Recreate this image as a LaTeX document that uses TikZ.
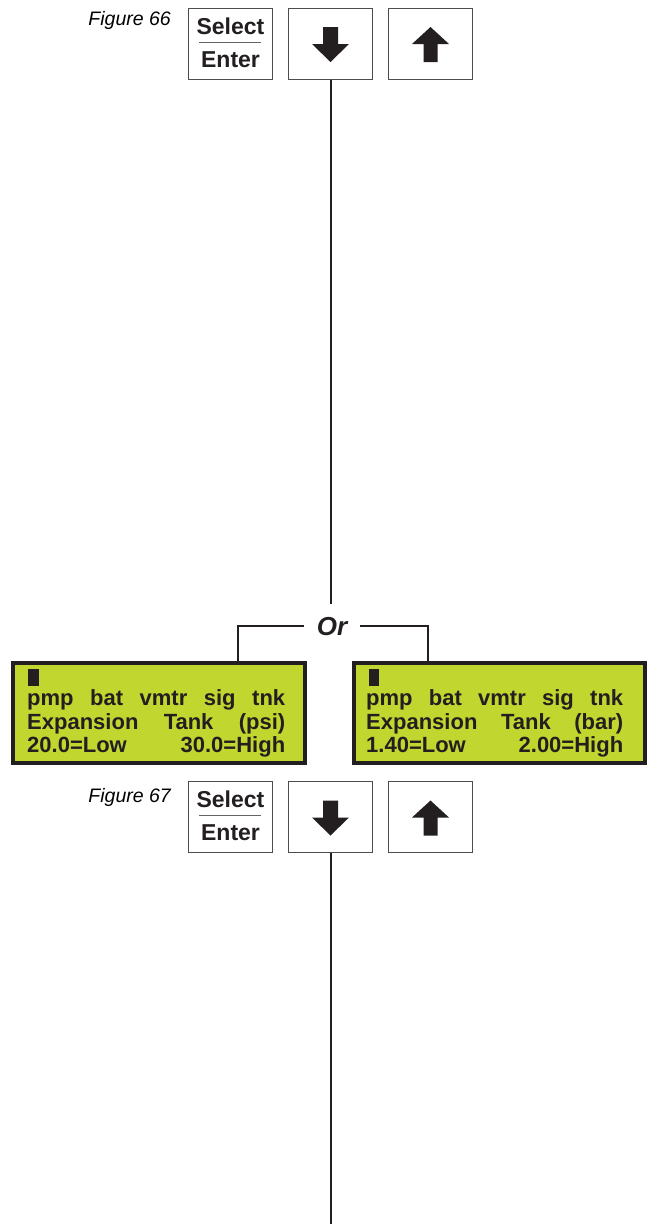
\documentclass[tikz,border=0pt]{standalone}
\usepackage{fontspec}
\setmainfont{Liberation Sans}
\definecolor{lcd}{RGB}{194,214,48}
\definecolor{ink}{RGB}{35,31,32}
\tikzset{
  keybox/.style={draw=ink!80, line width=1pt, fill=white, minimum width=84pt, minimum height=71pt, inner sep=0pt},
  lcdbox/.style={draw=ink, line width=4pt, fill=lcd, inner sep=0pt, minimum height=100pt},
  conn/.style={draw=ink, line width=2pt},
  figlabel/.style={anchor=base east, inner sep=0pt, font=\fontsize{19.5}{22}\selectfont\itshape},
  keytext/.style={anchor=base, inner sep=0pt, font=\fontsize{23}{24}\selectfont\bfseries, text=ink},
  lcdtext/.style={anchor=base west, inner sep=0pt, font=\fontsize{22}{24}\selectfont\bfseries, text=ink},
  ortext/.style={anchor=base, inner sep=12.5pt, font=\fontsize{26}{28}\selectfont\bfseries\itshape, text=ink},
}
\newcommand{\downarrowshape}[1]{\fill[ink, shift={(#1)}] (-7.5,-16.5) -- (7.5,-16.5) -- (7.5,0.5) -- (18.5,0.5) -- (0,18.5) -- (-18.5,0.5) -- (-7.5,0.5) -- cycle;}
\newcommand{\uparrowshape}[1]{\fill[ink, shift={(#1)}] (-7,18.5) -- (7,18.5) -- (7,0.5) -- (18.5,0.5) -- (0,-16.5) -- (-18.5,0.5) -- (-7,0.5) -- cycle;}
\begin{document}
\begin{tikzpicture}[x=1pt,y=-1pt]
\useasboundingbox (0,0) rectangle (648,1224);

% ---------- Figure 66 ----------
\node[figlabel] (f66) at (171,25) {Figure 66};
\node[keybox] (s1) at (230,43.5) {};
\node[keybox] (d1) at (330.5,43.5) {};
\node[keybox] (u1) at (430.5,43.5) {};
\node[keytext] (s1a) at (230.5,34) {Select};
\node[keytext] (s1b) at (230.5,67) {Enter};
\draw[ink!70, line width=1pt] (199,42) -- (261,42);
\downarrowshape{d1.center}
\uparrowshape{u1.center}

% ---------- Or split ----------
\node[ortext] (or) at (332,635) {Or};
\draw[conn] (d1.south) -- (d1.south |- or.north);
\node[lcdbox, minimum width=292pt] (lcdA) at (159,713) {};
\node[lcdbox, minimum width=291pt] (lcdB) at (499.5,713) {};
\coordinate (ta) at (238,663);
\coordinate (tb) at (428,663);
\draw[conn] (or.west) -| (ta);
\draw[conn] (or.east) -| (tb);

% LCD A
\fill[ink] (28,669) rectangle (39,686);
\node[lcdtext] (a1) at (27,705) {\makebox[258pt][s]{pmp bat vmtr sig tnk}};
\node[lcdtext] (a2) at (27,729) {\makebox[258pt][s]{Expansion Tank (psi)}};
\node[lcdtext] (a3) at (27,752) {\makebox[258pt][s]{20.0=Low 30.0=High}};

% LCD B
\fill[ink] (369,669) rectangle (379,686);
\node[lcdtext] (b1) at (366,705) {\makebox[257pt][s]{pmp bat vmtr sig tnk}};
\node[lcdtext] (b2) at (366,729) {\makebox[257pt][s]{Expansion Tank (bar)}};
\node[lcdtext] (b3) at (366,752) {\makebox[257pt][s]{1.40=Low 2.00=High}};

% ---------- Figure 67 ----------
\node[figlabel] (f67) at (171,802) {Figure 67};
\node[keybox] (s2) at (230,817) {};
\node[keybox] (d2) at (330.5,817) {};
\node[keybox] (u2) at (430.5,817) {};
\node[keytext] (s2a) at (230.5,807.5) {Select};
\node[keytext] (s2b) at (230.5,840.5) {Enter};
\draw[ink!70, line width=1pt] (199,815.5) -- (261,815.5);
\downarrowshape{d2.center}
\uparrowshape{u2.center}
\coordinate (bottom) at (330.5,1224);
\draw[conn] (d2.south) -- (bottom);
\end{tikzpicture}
\end{document}
